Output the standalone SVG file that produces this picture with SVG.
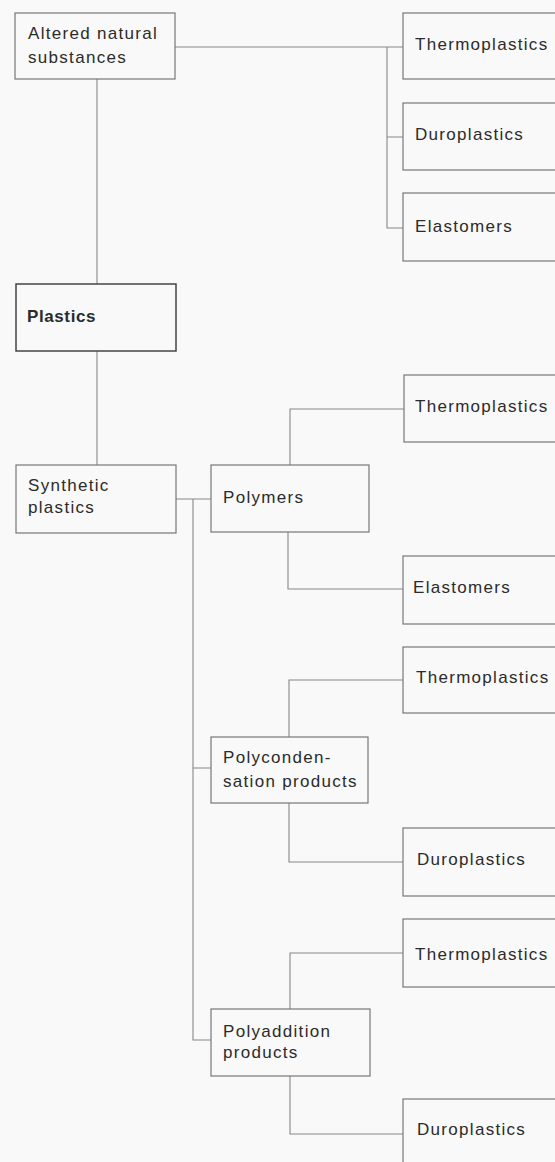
<svg xmlns="http://www.w3.org/2000/svg" width="555" height="1162" viewBox="0 0 555 1162">
<style>
.box{fill:none;stroke:#777;stroke-width:1.2}
.bold{stroke:#444;stroke-width:1.5}
.con{fill:none;stroke:#888;stroke-width:1.1}
text{font-family:"Liberation Sans",Arial,sans-serif;font-size:17px;fill:#2b2b2b;letter-spacing:1.3px}
.b{font-weight:bold;letter-spacing:0.6px}
</style>
<rect width="555" height="1162" fill="#f9f9f9"/>
<g id="connectors">
<path class="con" d="M175,47 H403 M387,47 V228 H403 M387,137 H403"/>
<path class="con" d="M97,79 V284"/>
<path class="con" d="M97,351 V465"/>
<path class="con" d="M176,499 H211"/>
<path class="con" d="M193,499 V1040 H211 M193,768 H211"/>
<path class="con" d="M290,465 V409 H404"/>
<path class="con" d="M288,532 V589 H403"/>
<path class="con" d="M289,737 V680 H403"/>
<path class="con" d="M289,803 V862 H403"/>
<path class="con" d="M290,1009 V953 H403"/>
<path class="con" d="M290,1076 V1134 H403"/>
</g>
<g id="altered"><rect class="box" x="15" y="13" width="160" height="66"/><text x="28" y="39">Altered natural</text><text x="28" y="63">substances</text></g>
<g id="thermo1"><rect class="box" x="403" y="13" width="170" height="66"/><text x="415" y="50">Thermoplastics</text></g>
<g id="duro1"><rect class="box" x="403" y="103" width="170" height="67"/><text x="415" y="140">Duroplastics</text></g>
<g id="elast1"><rect class="box" x="403" y="193" width="170" height="68"/><text x="415" y="232">Elastomers</text></g>
<g id="plastics"><rect class="box bold" x="16" y="284" width="160" height="67"/><text class="b" x="27" y="322">Plastics</text></g>
<g id="synthetic"><rect class="box" x="16" y="465" width="160" height="68"/><text x="28" y="491">Synthetic</text><text x="28" y="513">plastics</text></g>
<g id="polymers"><rect class="box" x="211" y="465" width="158" height="67"/><text x="223" y="503">Polymers</text></g>
<g id="thermo2"><rect class="box" x="404" y="375" width="170" height="67"/><text x="415" y="412">Thermoplastics</text></g>
<g id="elast2"><rect class="box" x="403" y="556" width="170" height="68"/><text x="413" y="593">Elastomers</text></g>
<g id="polycond"><rect class="box" x="211" y="737" width="157" height="66"/><text x="223" y="763">Polyconden-</text><text x="223" y="787">sation products</text></g>
<g id="thermo3"><rect class="box" x="403" y="647" width="170" height="66"/><text x="416" y="683">Thermoplastics</text></g>
<g id="duro3"><rect class="box" x="403" y="828" width="170" height="68"/><text x="417" y="865">Duroplastics</text></g>
<g id="polyadd"><rect class="box" x="211" y="1009" width="159" height="67"/><text x="223" y="1037">Polyaddition</text><text x="223" y="1058">products</text></g>
<g id="thermo4"><rect class="box" x="403" y="919" width="170" height="68"/><text x="415" y="960">Thermoplastics</text></g>
<g id="duro4"><rect class="box" x="403" y="1099" width="170" height="80"/><text x="417" y="1135">Duroplastics</text></g>
</svg>
